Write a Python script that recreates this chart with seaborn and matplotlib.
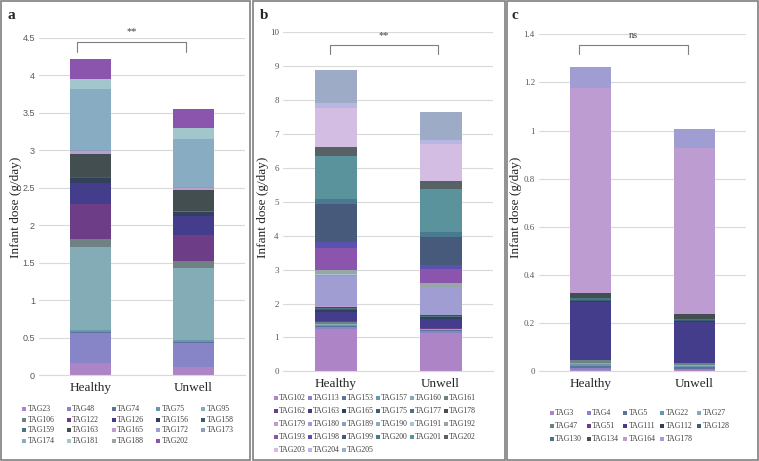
import numpy as np
import pandas as pd
import seaborn as sns
import matplotlib.pyplot as plt
from matplotlib.patches import Rectangle

W, H = 759, 461  # figure size in pixels

groups = ['Healthy', 'Unwell']

# Excel-style series colours, in legend order
palette = ['#ad84c6', '#8784c7', '#5d739a', '#6997af', '#84acb6', '#6f8183',
           '#6e3d87', '#433d8c', '#33405c', '#3b5f72', '#4a7480', '#434e50',
           '#bd9dd1', '#a09dd3', '#8e9dbd', '#88adc2', '#a3c5cc', '#98a6a8',
           '#8c55ad', '#5a52b0', '#485a7b', '#4a7a90', '#5b939c', '#566264',
           '#d3bde3', '#b8b6e2', '#9eabc6']

# panel a
tags_a = ['TAG23', 'TAG48', 'TAG74', 'TAG75', 'TAG95', 'TAG106', 'TAG122', 'TAG126',
          'TAG156', 'TAG158', 'TAG159', 'TAG163', 'TAG165', 'TAG172', 'TAG173',
          'TAG174', 'TAG181', 'TAG188', 'TAG202']
healthy_a = [0.16, 0.395, 0.02, 0.03, 1.108, 0.103, 0.467, 0.285, 0.066, 0.006, 0.005,
             0.31, 0.03, 0.01, 0.01, 0.809, 0.136, 0.005, 0.265]
unwell_a = [0.11, 0.32, 0.015, 0.022, 0.963, 0.09, 0.345, 0.258, 0.052, 0.004, 0.004,
            0.29, 0.02, 0.006, 0.006, 0.65, 0.14, 0.005, 0.25]

# panel b
tags_b = ['TAG102', 'TAG113', 'TAG153', 'TAG157', 'TAG160', 'TAG161', 'TAG162', 'TAG163',
          'TAG165', 'TAG175', 'TAG177', 'TAG178', 'TAG179', 'TAG180', 'TAG189', 'TAG190',
          'TAG191', 'TAG192', 'TAG193', 'TAG198', 'TAG199', 'TAG200', 'TAG201', 'TAG202',
          'TAG203', 'TAG204', 'TAG205']
healthy_b = [1.24, 0.08, 0.03, 0.02, 0.02, 0.07, 0.02, 0.28, 0.05, 0.03, 0.02, 0.05,
             0.01, 0.89, 0.02, 0.02, 0.02, 0.12, 0.64, 0.19, 1.11, 0.15, 1.28, 0.265,
             1.155, 0.12, 0.99]
unwell_b = [1.12, 0.08, 0.015, 0.01, 0.01, 0.02, 0.01, 0.285, 0.04, 0.02, 0.01, 0.04,
            0.01, 0.78, 0.02, 0.02, 0.01, 0.10, 0.42, 0.12, 0.82, 0.15, 1.27, 0.24,
            1.08, 0.12, 0.82]

# panel c
tags_c = ['TAG3', 'TAG4', 'TAG5', 'TAG22', 'TAG27', 'TAG47', 'TAG51', 'TAG111', 'TAG112',
          'TAG128', 'TAG130', 'TAG134', 'TAG164', 'TAG178']
healthy_c = [0.006, 0.008, 0.01, 0.006, 0.006, 0.01, 0.003, 0.24, 0.004, 0.005, 0.005,
             0.024, 0.849, 0.089]
unwell_c = [0.004, 0.006, 0.007, 0.005, 0.005, 0.006, 0.002, 0.171, 0.003, 0.004, 0.006,
            0.019, 0.691, 0.079]

sig_labels = ['**', '**', 'ns']

SERIF = 'Liberation Serif'


def px(x, y):
    """pixel position (from top left) -> figure fraction"""
    return x / W, 1 - y / H


def draw_panel(ax, tags, healthy, unwell, ymax, step, tick_family):
    df = pd.DataFrame({'tag': tags, 'Healthy': healthy, 'Unwell': unwell})
    long = df.melt(id_vars='tag', var_name='group', value_name='dose')
    long['top'] = long.groupby('group')['dose'].cumsum()
    # paint cumulative totals from the top down, each layer covers the one above
    for i in range(len(tags) - 1, -1, -1):
        sns.barplot(data=long[long['tag'] == tags[i]], x='group', y='top', order=groups,
                    color=palette[i], saturation=1, width=0.4, linewidth=0,
                    errorbar=None, ax=ax)
    ax.set_xlim(-0.5, 1.5)
    ax.set_ylim(0, ymax)
    ticks = np.arange(0, ymax + step / 2, step)
    ax.set_yticks(ticks)
    ax.set_yticklabels([f'{t:g}' for t in ticks], family=tick_family, fontsize=6.5,
                       color='#595959')
    ax.set_xticks([0, 1])
    ax.set_xticklabels(groups, family=SERIF, fontsize=9.5)
    ax.set_xlabel('')
    ax.set_ylabel('')
    ax.grid(axis='y', color='#d9d9d9', linewidth=0.8)
    ax.set_axisbelow(True)
    for s in ['left', 'right', 'top']:
        ax.spines[s].set_visible(False)
    ax.spines['bottom'].set_color('#d9d9d9')
    ax.spines['bottom'].set_linewidth(0.8)
    ax.tick_params(axis='both', length=0)
    ax.tick_params(axis='y', pad=3)
    ax.tick_params(axis='x', pad=5)


def draw_bracket(ax, x0, x1, ytop, ybot, label):
    ax.plot([x0, x0, x1, x1], [ybot, ytop, ytop, ybot], color='#7f7f7f', lw=0.8,
            clip_on=False)
    ax.text((x0 + x1) / 2, ytop + (ytop - ybot) * 0.55, label, ha='center', va='bottom',
            family=SERIF, fontsize=7.5, color='#404040', clip_on=False)


def draw_legend(fig, tags, x0, y0, dx, dy, ncol):
    for i, tag in enumerate(tags):
        col, row = i % ncol, i // ncol
        mx, my = x0 + col * dx, y0 + row * dy
        fx, fy = px(mx - 2, my + 2)
        fig.add_artist(Rectangle((fx, fy), 4 / W, 4 / H, transform=fig.transFigure,
                                 color=palette[i], lw=0))
        tx, ty = px(mx + 3.5, my)
        fig.text(tx, ty, tag, ha='left', va='center', family=SERIF, fontsize=5.6,
                 color='#404040')


sns.set_style('white')
fig = plt.figure(figsize=(W / 100, H / 100), dpi=100)

# panel frames
for x0, x1 in [(1, 249.5), (253, 505), (507, 757.5)]:
    fx, fy = px(x0, 459.5)
    fig.add_artist(Rectangle((fx, fy), (x1 - x0) / W, 458 / H, transform=fig.transFigure,
                             fill=False, edgecolor='#7f7f7f', lw=1.2))

ax_a = fig.add_axes([39 / W, 1 - 375 / H, 206 / W, 337.3 / H])
ax_b = fig.add_axes([283 / W, 1 - 371.3 / H, 210 / W, 339 / H])
ax_c = fig.add_axes([539 / W, 1 - 371.3 / H, 207 / W, 337 / H])

draw_panel(ax_a, tags_a, healthy_a, unwell_a, 4.5, 0.5, 'Liberation Sans')
draw_panel(ax_b, tags_b, healthy_b, unwell_b, 10, 1, SERIF)
draw_panel(ax_c, tags_c, healthy_c, unwell_c, 1.4, 0.2, SERIF)

draw_bracket(ax_a, -0.13, 0.93, 4.446, 4.31, sig_labels[0])
draw_bracket(ax_b, -0.055, 0.976, 9.63, 9.36, sig_labels[1])
draw_bracket(ax_c, -0.116, 0.937, 1.356, 1.318, sig_labels[2])

# y labels and panel letters
for x, label in [(16, 'a'), (263, 'b'), (516, 'c')]:
    fig.text(*px(x, 207), 'Infant dose (g/day)', rotation=90, ha='center', va='center',
             family=SERIF, fontsize=9.5)
for x, letter in [(7, 'a'), (260, 'b'), (512, 'c')]:
    fig.text(*px(x, 15.5), letter, ha='left', va='center', family=SERIF,
             fontsize=11, fontweight='bold')

draw_legend(fig, tags_a, 24, 409.3, 44.8, 10.5, 5)
draw_legend(fig, tags_b, 275.7, 397.7, 34, 13.1, 6)
draw_legend(fig, tags_c, 551.7, 413, 36.8, 13.2, 5)

fig.savefig('out.png', dpi=100, facecolor='white')
